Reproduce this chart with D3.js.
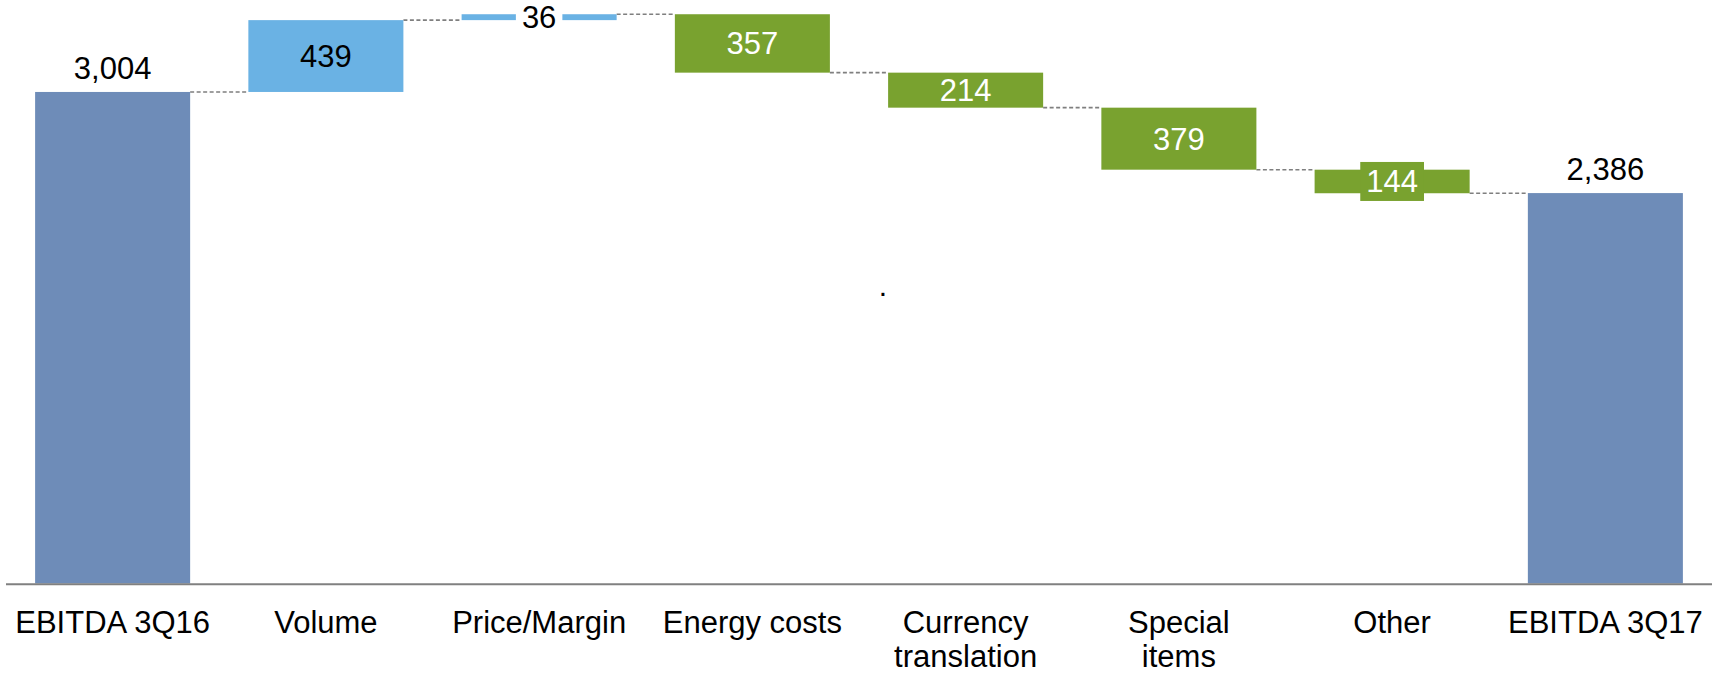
<!DOCTYPE html>
<html>
<head>
<meta charset="utf-8">
<script src="https://cdn.jsdelivr.net/npm/d3@7/dist/d3.min.js"></script>
<style>
  html, body { margin: 0; padding: 0; background: #ffffff; }
  svg { display: block; }
  text { font-family: "Liberation Sans", Arial, Helvetica, sans-serif; }
</style>
</head>
<body>
<svg id="chart" width="1723" height="675"></svg>
<script>
// EBITDA bridge, 3Q16 to 3Q17 (waterfall)
const categories = [
  ["EBITDA 3Q16"],
  ["Volume"],
  ["Price/Margin"],
  ["Energy costs"],
  ["Currency", "translation"],
  ["Special", "items"],
  ["Other"],
  ["EBITDA 3Q17"]
];
const deltas = [3004, 439, 36, -357, -214, -379, -144, 2386];
const kinds = ["total", "increase", "increase", "decrease", "decrease", "decrease", "decrease", "total"];
const valueLabels = ["3,004", "439", "36", "357", "214", "379", "144", "2,386"];

const colors = { total: "#6E8CB8", increase: "#6AB2E4", decrease: "#79A22F" };
const labelInk = { total: "#000000", increase: "#000000", decrease: "#ffffff" };

// running totals -> start / end for every step
let running = 0;
const steps = deltas.map((d, i) => {
  let lo, hi;
  if (kinds[i] === "total") {
    lo = 0; hi = d; running = d;
  } else {
    const next = running + d;
    lo = Math.min(running, next); hi = Math.max(running, next);
    running = next;
  }
  return { i, kind: kinds[i], lo, hi, end: kinds[i] === "total" ? d : running, label: valueLabels[i] };
});

const svg = d3.select("#chart");
const FONT = 31;

const x = d3.scaleBand()
  .domain(d3.range(categories.length))
  .range([6, 1712])
  .paddingInner(0.273)
  .paddingOuter(0.1365);

const y = d3.scaleLinear()
  .domain([0, 3566])
  .range([583.5, 0]);

// connectors between consecutive bars
const conn = svg.append("g");
for (let i = 0; i < steps.length - 1; i++) {
  const level = steps[i].end;
  conn.append("line")
    .attr("x1", x(i) + x.bandwidth())
    .attr("x2", x(i + 1))
    .attr("y1", y(level))
    .attr("y2", y(level))
    .attr("stroke", "#7f7f7f")
    .attr("stroke-width", 1.6)
    .attr("stroke-dasharray", "4,2.5");
}

// bars
svg.append("g").selectAll("rect")
  .data(steps)
  .join("rect")
  .attr("x", d => x(d.i))
  .attr("width", x.bandwidth())
  .attr("y", d => y(d.hi))
  .attr("height", d => y(d.lo) - y(d.hi))
  .attr("fill", d => colors[d.kind]);

// baseline
svg.append("line")
  .attr("x1", 6).attr("x2", 1712)
  .attr("y1", 584.3).attr("y2", 584.3)
  .attr("stroke", "#808080")
  .attr("stroke-width", 2);

// value labels
const labels = svg.append("g");
steps.forEach(d => {
  const cx = x(d.i) + x.bandwidth() / 2;
  if (d.kind === "total") {
    labels.append("text")
      .attr("x", cx)
      .attr("y", y(d.hi) - 13)
      .attr("text-anchor", "middle")
      .attr("font-size", FONT)
      .attr("fill", "#000")
      .text(d.label);
    return;
  }
  const cy = (y(d.hi) + y(d.lo)) / 2;
  const h = y(d.lo) - y(d.hi);
  const t = labels.append("text")
    .attr("x", cx)
    .attr("y", cy + 11)
    .attr("text-anchor", "middle")
    .attr("font-size", FONT)
    .attr("fill", labelInk[d.kind])
    .text(d.label);
  if (h < 30) {
    // thin bar: give the label its own box
    const w = t.node().getComputedTextLength() + 12;
    labels.insert("rect", () => t.node())
      .attr("x", cx - w / 2)
      .attr("y", cy - 19.5)
      .attr("width", w)
      .attr("height", 39)
      .attr("fill", d.kind === "decrease" ? colors.decrease : "#ffffff");
  }
});

// category labels
const axisG = svg.append("g");
categories.forEach((lines, i) => {
  const t = axisG.append("text")
    .attr("x", x(i) + x.bandwidth() / 2)
    .attr("y", 633)
    .attr("text-anchor", "middle")
    .attr("font-size", FONT)
    .attr("fill", "#000");
  lines.forEach((ln, k) => {
    t.append("tspan")
      .attr("x", x(i) + x.bandwidth() / 2)
      .attr("dy", k === 0 ? 0 : 34)
      .text(ln);
  });
});

// stray full stop in the plot area
svg.append("text")
  .attr("x", 883)
  .attr("y", 296)
  .attr("text-anchor", "middle")
  .attr("font-size", 30)
  .attr("fill", "#000")
  .text(".");
</script>
</body>
</html>
